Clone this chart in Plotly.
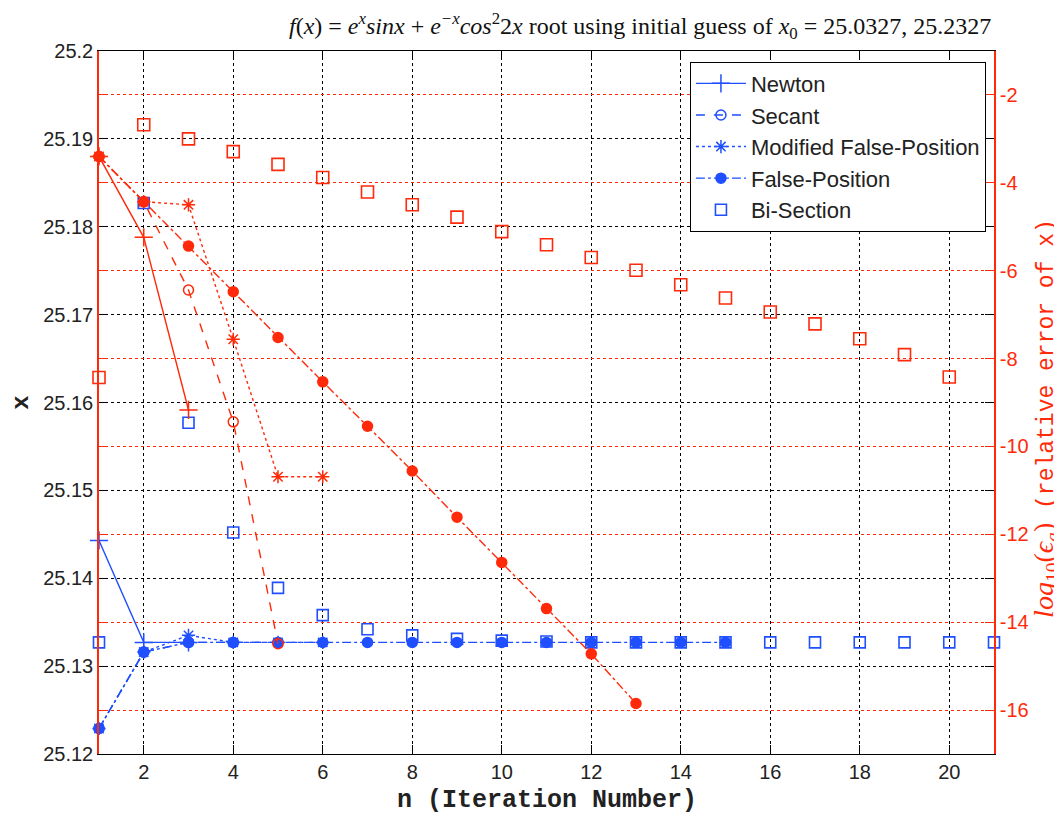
import plotly.graph_objects as go

# ---------------- data ----------------
newton_n = [1, 2, 3]
newton_x = [25.1443, 25.1327, 25.1327]
newton_err = [-3.40, -5.24, -9.17]

secant_n = [1, 2, 3, 4, 5]
secant_x = [25.1229, 25.1316, 25.1327, 25.1327, 25.1327]
secant_err = [-3.40, -4.43, -6.44, -9.44, -14.49]

mfp_n = [1, 2, 3, 4, 5, 6]
mfp_x = [25.1229, 25.1316, 25.1335, 25.1327, 25.1327, 25.1327]
mfp_err = [-3.40, -4.43, -4.50, -7.56, -10.69, -10.69]

fp_n = [1, 2, 3, 4, 5, 6, 7, 8, 9, 10, 11, 12, 13, 14, 15]
fp_x = [25.1229, 25.1316, 25.1327, 25.1327, 25.1327, 25.1327, 25.1327, 25.1327,
        25.1327, 25.1327, 25.1327, 25.1327, 25.1327, 25.1327, 25.1327]
fp_err_n = [1, 2, 3, 4, 5, 6, 7, 8, 9, 10, 11, 12, 13]
fp_err = [-3.40, -4.43, -5.44, -6.48, -7.52, -8.53, -9.54, -10.56, -11.61,
          -12.64, -13.69, -14.72, -15.85]

bis_n = [1, 2, 3, 4, 5, 6, 7, 8, 9, 10, 11, 12, 13, 14, 15, 16, 17, 18, 19, 20, 21]
bis_x = [25.1327, 25.1827, 25.1577, 25.1452, 25.1389, 25.1358, 25.1342, 25.1335,
         25.1331, 25.1329, 25.1328, 25.1327, 25.1327, 25.1327, 25.1327, 25.1327,
         25.1327, 25.1327, 25.1327, 25.1327, 25.1327]
bis_err_n = [1, 2, 3, 4, 5, 6, 7, 8, 9, 10, 11, 12, 13, 14, 15, 16, 17, 18, 19, 20]
bis_err = [-8.43, -2.68, -3.00, -3.29, -3.58, -3.88, -4.21, -4.50, -4.78, -5.11,
           -5.41, -5.70, -5.99, -6.32, -6.62, -6.94, -7.21, -7.55, -7.91, -8.42]

left_ticks = [25.12, 25.13, 25.14, 25.15, 25.16, 25.17, 25.18, 25.19, 25.2]
left_labels = ["25.12", "25.13", "25.14", "25.15", "25.16", "25.17", "25.18", "25.19", "25.2"]
right_ticks = [-16, -14, -12, -10, -8, -6, -4, -2]
right_labels = ["-16", "-14", "-12", "-10", "-8", "-6", "-4", "-2"]
x_ticks = [2, 4, 6, 8, 10, 12, 14, 16, 18, 20]

BLUE = "#1f4fff"
RED = "#ff2a0a"

fig = go.Figure()

specs = [
    ("Newton", newton_n, newton_x, newton_n, newton_err, "solid", "cross-thin-open", 13),
    ("Secant", secant_n, secant_x, secant_n, secant_err, "dash", "circle-open", 10),
    ("Modified False-Position", mfp_n, mfp_x, mfp_n, mfp_err, "dot", "asterisk-open", 11),
    ("False-Position", fp_n, fp_x, fp_err_n, fp_err, "dashdot", "circle", 10),
]

for name, xn, xv, en, ev, dash, sym, size in specs:
    fig.add_trace(go.Scatter(
        x=xn, y=xv, name=name, mode="lines+markers", yaxis="y", legendgroup=name,
        line=dict(color=BLUE, width=1.4, dash=dash),
        marker=dict(symbol=sym, size=size, color=BLUE, line=dict(color=BLUE, width=1.5)),
        cliponaxis=False, showlegend=True))

fig.add_trace(go.Scatter(
    x=bis_n, y=bis_x, name="Bi-Section", mode="markers", yaxis="y", legendgroup="bis",
    marker=dict(symbol="square-open", size=11, color=BLUE, line=dict(color=BLUE, width=1.6)),
    cliponaxis=False, showlegend=True))

for name, xn, xv, en, ev, dash, sym, size in specs:
    fig.add_trace(go.Scatter(
        x=en, y=ev, name=name + " error", mode="lines+markers", yaxis="y2",
        line=dict(color=RED, width=1.4, dash=dash),
        marker=dict(symbol=sym, size=size, color=RED, line=dict(color=RED, width=1.5)),
        cliponaxis=False, showlegend=False))

fig.add_trace(go.Scatter(
    x=bis_err_n, y=bis_err, name="Bi-Section error", mode="markers", yaxis="y2",
    marker=dict(symbol="square-open", size=12, color=RED, line=dict(color=RED, width=1.6)),
    cliponaxis=False, showlegend=False))

tickfont = dict(family="Liberation Sans, Arial, sans-serif", size=20, color="#222")

fig.update_layout(
    width=1054, height=817,
    margin=dict(l=91, r=68, t=43, b=71),
    paper_bgcolor="white", plot_bgcolor="white",
    showlegend=True,
    xaxis=dict(range=[1, 21], tickvals=x_ticks, ticks="inside", ticklen=9,
               tickcolor="black", showline=True, linecolor="black", linewidth=1,
               mirror="ticks", showgrid=True, gridcolor="black", griddash="dot",
               gridwidth=1, zeroline=False, tickfont=tickfont),
    yaxis=dict(range=[25.12, 25.2], tickvals=left_ticks, ticktext=left_labels,
               ticks="inside", ticklen=9, tickcolor="black", showline=True,
               linecolor=RED, linewidth=1.5, mirror="ticks", showgrid=True,
               gridcolor="black", griddash="dot", gridwidth=1, zeroline=False,
               tickfont=tickfont),
    yaxis2=dict(range=[-17, -1], tickvals=right_ticks, ticktext=right_labels,
                overlaying="y", side="right", ticks="inside", ticklen=9,
                tickcolor=RED, showline=True, linecolor=RED, linewidth=1.5,
                mirror="ticks", showgrid=True, gridcolor=RED, griddash="dot",
                gridwidth=1, zeroline=False,
                tickfont=dict(family="Liberation Sans, Arial, sans-serif", size=20, color=RED)),
    legend=dict(x=0.991, y=0.985, xanchor="right", yanchor="top",
                bgcolor="white", bordercolor="black", borderwidth=1,
                font=dict(family="Liberation Sans, Arial, sans-serif", size=22, color="#222"),
                tracegroupgap=0, itemwidth=50),
)

title_text = ("<i>f</i>(<i>x</i>) = <i>e<sup>x</sup>sinx</i> + <i>e<sup>\u2212x</sup>cos</i>"
              "<sup>2</sup>2<i>x</i> root using initial guess of <i>x</i><sub>0</sub> = 25.0327, 25.2327")
fig.add_annotation(text=title_text, xref="paper", yref="paper", x=0.604, y=1.035,
                   xanchor="center", yanchor="middle", showarrow=False,
                   font=dict(family="Liberation Serif, serif", size=24, color="#111"))
fig.add_annotation(text="<b>n (Iteration Number)</b>", xref="paper", yref="paper",
                   x=0.5, y=-0.066, xanchor="center", yanchor="middle", showarrow=False,
                   font=dict(family="Liberation Mono, monospace", size=25, color="#222"))
fig.add_annotation(text="<b>x</b>", xref="paper", yref="paper", x=-0.087, y=0.5,
                   xanchor="center", yanchor="middle", showarrow=False, textangle=-90,
                   font=dict(family="Liberation Mono, monospace", size=24, color="#222"))
fig.add_annotation(
    text=("<span style='font-family:Liberation Serif, serif;font-size:28px'><i>log</i><sub>10</sub>(<i>\u03f5<sub>a</sub></i>)</span>"
          " (relative error of x)"),
    xref="paper", yref="paper", x=1.058, y=0.478, xanchor="center", yanchor="middle",
    showarrow=False, textangle=-90,
    font=dict(family="Liberation Mono, monospace", size=23, color=RED))

fig.write_html("out.html")
